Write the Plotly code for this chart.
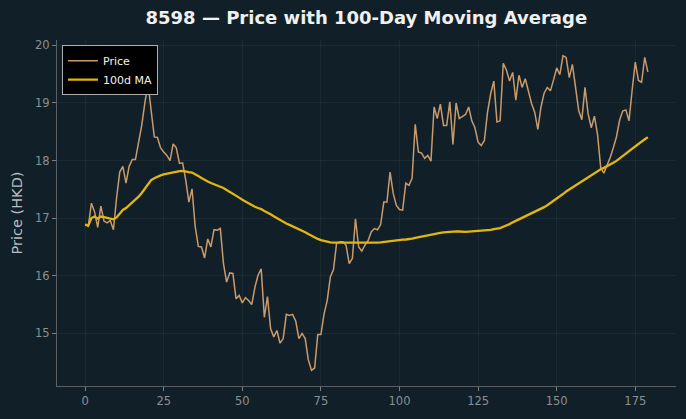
import plotly.graph_objects as go
import pandas as pd

price = [
    16.89, 16.86, 17.26, 17.11, 16.84, 17.21, 16.95, 16.92, 16.96, 16.80,
    17.35, 17.80, 17.90, 17.61, 17.90, 18.02, 18.02, 18.32, 18.61, 19.00,
    19.35, 18.87, 18.41, 18.40, 18.22, 18.15, 18.09, 18.00, 18.29, 18.22,
    17.95, 17.96, 17.66, 17.28, 17.51, 16.86, 16.51, 16.50, 16.31, 16.64,
    16.50, 16.80, 16.79, 16.82, 16.21, 15.89, 16.05, 16.04, 15.60, 15.66,
    15.53, 15.62, 15.57, 15.50, 15.80, 16.01, 16.12, 15.28, 15.64, 15.08,
    14.94, 15.05, 14.83, 14.91, 15.33, 15.31, 15.33, 15.21, 14.91, 15.00,
    14.91, 14.54, 14.36, 14.40, 14.98, 14.98, 15.34, 15.57, 15.98, 16.11,
    16.57, 16.59, 16.59, 16.53, 16.21, 16.30, 16.99, 16.50, 16.43, 16.53,
    16.61, 16.76, 16.82, 16.80, 16.89, 17.28, 17.28, 17.80, 17.43, 17.22,
    17.15, 17.14, 17.61, 17.57, 17.69, 18.63, 18.15, 18.13, 18.04, 18.09,
    17.99, 18.93, 18.73, 18.98, 18.61, 18.61, 19.02, 18.28, 19.00, 18.73,
    18.76, 18.80, 18.93, 18.69, 18.57, 18.32, 18.26, 18.35, 18.84, 19.16,
    19.38, 18.67, 18.69, 19.69, 19.57, 19.38, 19.53, 19.05, 19.48, 19.27,
    19.42, 19.22, 18.99, 18.84, 18.54, 18.93, 19.17, 19.27, 19.21, 19.40,
    19.61, 19.49, 19.82, 19.79, 19.44, 19.67, 19.22, 18.87, 18.71, 19.27,
    18.81, 18.57, 18.77, 18.45, 17.88, 17.78, 17.92, 18.05, 18.22, 18.41,
    18.70, 18.86, 18.88, 18.69, 19.22, 19.71, 19.39, 19.36, 19.79, 19.54,
]
days = list(range(len(price)))
ma_window = 100
ma100 = pd.Series(price).rolling(ma_window, min_periods=1).mean().tolist()

x_ticks = [0, 25, 50, 75, 100, 125, 150, 175]
y_ticks = [15, 16, 17, 18, 19, 20]

bg = "#112028"
fig = go.Figure()
fig.add_trace(go.Scatter(x=days, y=price, mode="lines", name="Price",
                         line=dict(color="#c99a6c", width=1.5)))
fig.add_trace(go.Scatter(x=days, y=ma100, mode="lines", name="100d MA",
                         line=dict(color="#e3b50f", width=2.3)))

pad_x = 0.05 * (days[-1] - days[0])
ymin, ymax = min(price), max(price)
pad_y = 0.05 * (ymax - ymin)

fig.update_layout(
    width=686, height=419,
    paper_bgcolor=bg, plot_bgcolor=bg,
    margin=dict(l=57, r=10, t=40, b=33),
    font=dict(family="DejaVu Sans", color="#8a8f93"),
    title=dict(text="<b>8598 — Price with 100-Day Moving Average</b>",
               x=0.534, xanchor="center", y=0.957, yanchor="middle",
               font=dict(size=18, color="#f0f0f0", family="DejaVu Sans")),
    showlegend=True,
    legend=dict(x=0.008, y=0.985, xanchor="left", yanchor="top",
                bgcolor="#000000", bordercolor="#b0b0b0", borderwidth=1,
                font=dict(size=11, color="#f0f0f0"),
                itemwidth=30, tracegroupgap=0),
    xaxis=dict(range=[days[0] - pad_x, days[-1] + pad_x],
               tickvals=x_ticks, ticktext=[str(t) for t in x_ticks],
               showgrid=True, gridcolor="rgba(255,255,255,0.045)", gridwidth=1,
               zeroline=False, showline=True, linecolor="#5a5f63", linewidth=1,
               ticks="outside", ticklen=4, tickcolor="#7a7f83",
               tickfont=dict(size=11.5, color="#8a8f93")),
    yaxis=dict(range=[ymin - pad_y, ymax + pad_y],
               tickvals=y_ticks, ticktext=[str(t) for t in y_ticks],
               showgrid=True, gridcolor="rgba(255,255,255,0.045)", gridwidth=1,
               zeroline=False, showline=True, linecolor="#5a5f63", linewidth=1,
               ticks="outside", ticklen=4, tickcolor="#7a7f83",
               tickfont=dict(size=11.5, color="#8a8f93"),
               title=dict(text="Price (HKD)", font=dict(size=14.5, color="#b8bcc0"),
                          standoff=8)),
)

fig.write_html("out.html")
